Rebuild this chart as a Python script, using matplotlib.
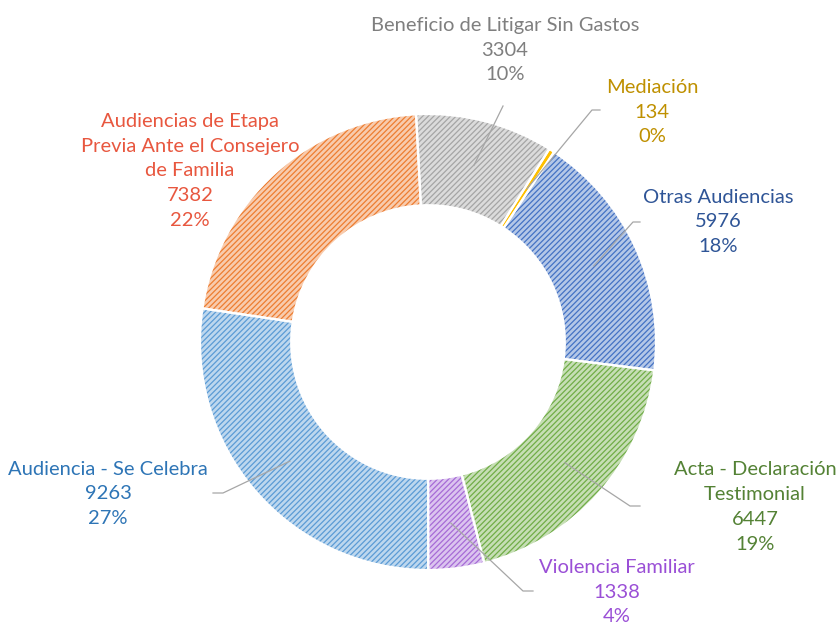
import matplotlib.pyplot as plt
import numpy as np
from matplotlib.colors import to_rgb

labels = ['Beneficio de Litigar Sin Gastos', 'Mediación', 'Otras Audiencias',
          'Acta - Declaración\nTestimonial', 'Violencia Familiar',
          'Audiencia - Se Celebra', 'Audiencias de Etapa\nPrevia Ante el Consejero\nde Familia']
values = [3304, 134, 5976, 6447, 1338, 9263, 7382]
colors = ['#A5A5A5', '#FFC000', '#4472C4', '#70AD47', '#A66BD6', '#5B9BD5', '#ED7D31']
text_colors = ['#7F7F7F', '#BF9000', '#2F5597', '#548235', '#9A4FD6', '#2E75B6', '#E8573F']

# label centres and leader line elbows, in pixels of the 836x627 image
label_px = [(505, 50), (652, 112), (718, 222), (755, 507), (617, 592), (108, 494), (190, 171)]
elbow_px = [(503, 106), (592, 110), (633, 222), (630, 506), (523, 591), (223, 493), None]
end_px = [(503, 106), (600, 110), (640, 222), (640, 506), (533, 591), (213, 493), None]

plt.rcParams['font.family'] = ['Lato', 'DejaVu Sans']
plt.rcParams['hatch.linewidth'] = 0.9

W, H = 836, 627
cx, cy, R = 428, 342, 228


def px(p):
    return ((p[0] - cx) / R, (cy - p[1]) / R)


fig = plt.figure(figsize=(W / 100, H / 100), dpi=100)
ax = fig.add_axes([0, 0, 1, 1])

light = [tuple(0.4 * np.array(to_rgb(c)) + 0.6) for c in colors]
light[1] = colors[1]  # thin sliver, keep it solid so it shows
wedges, _ = ax.pie(values, colors=light, startangle=93, counterclock=False,
                   radius=1, wedgeprops=dict(width=0.4, linewidth=0))
for w, c in zip(wedges, colors):
    w.set_hatch('//////')
    w.set_edgecolor(c)
# white separators
ax.pie(values, startangle=93, counterclock=False, radius=1,
       wedgeprops=dict(width=0.4, fill=False, edgecolor='white', linewidth=1.6))

ax.set_xlim(-cx / R, (W - cx) / R)
ax.set_ylim((cy - H) / R, cy / R)
ax.set_aspect('equal')
ax.axis('off')

total = sum(values)
for i, w in enumerate(wedges):
    pct = round(values[i] / total * 100)
    lx, ly = px(label_px[i])
    ax.text(lx, ly, f'{labels[i]}\n{values[i]}\n{pct}%', ha='center', va='center',
            color=text_colors[i], fontsize=14.5, linespacing=1.55)
    if elbow_px[i] is None:
        continue
    ang = np.deg2rad((w.theta1 + w.theta2) / 2)
    sx, sy = 0.8 * np.cos(ang), 0.8 * np.sin(ang)
    ex, ey = px(elbow_px[i])
    fx, fy = px(end_px[i])
    ax.plot([sx, ex, fx], [sy, ey, fy], color='#A6A6A6', lw=0.9)

fig.savefig('out.png', dpi=100)
